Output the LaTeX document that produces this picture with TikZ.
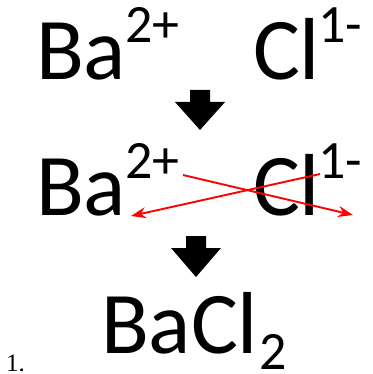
\documentclass[tikz,border=0pt]{standalone}
\usepackage{fontspec}
\setmainfont{Carlito}
\newfontfamily\numserif{Liberation Serif}
\usetikzlibrary{arrows.meta}
\begin{document}
\begin{tikzpicture}[x=1pt,y=-1pt,
  bigtxt/.style={font=\fontsize{88}{92}\selectfont, inner sep=0pt, outer sep=0pt, anchor=base west},
  smalltxt/.style={font=\fontsize{54}{58}\selectfont, inner sep=0pt, outer sep=0pt, anchor=base west},
  blockarrow/.style={fill=black},
  swap/.style={draw=red, line width=1.9pt, -{Stealth[length=15pt,width=11pt,inset=5pt]}}]
\useasboundingbox (0,0) rectangle (372,374);
% row 1
\node[bigtxt] (ba1) at (36,80) {Ba};
\node[smalltxt] (ba1c) at (125,43) {2+};
\node[bigtxt] (cl1) at (253,80) {Cl};
\node[smalltxt] (cl1c) at (318,43) {1-};
% arrow 1
\fill[blockarrow] (190,90) -- (210,90) -- (210,102) -- (225,102) -- (200,130) -- (175,102) -- (190,102) -- cycle;
% row 2
\node[bigtxt] (ba2) at (36,215) {Ba};
\node[smalltxt] (ba2c) at (125,178) {2+};
\node[bigtxt] (cl2) at (253,215) {Cl};
\node[smalltxt] (cl2c) at (318,178) {1-};
\coordinate (s1) at (183,175);
\coordinate (e1) at (353,215);
\coordinate (s2) at (320,174);
\coordinate (e2) at (131,216);
\draw[swap] (s1) -- (e1);
\draw[swap] (s2) -- (e2);
% arrow 2
\fill[blockarrow] (186,236) -- (206,236) -- (206,248) -- (221,248) -- (196,277) -- (171,248) -- (186,248) -- cycle;
% row 3
\node[bigtxt] (bacl) at (101,353) {BaCl};
\node[smalltxt] (sub) at (259,369) {2};
\node[inner sep=0pt, anchor=base west, font=\numserif\fontsize{25}{28}\selectfont] (num) at (6,371) {1.};
\end{tikzpicture}
\end{document}
